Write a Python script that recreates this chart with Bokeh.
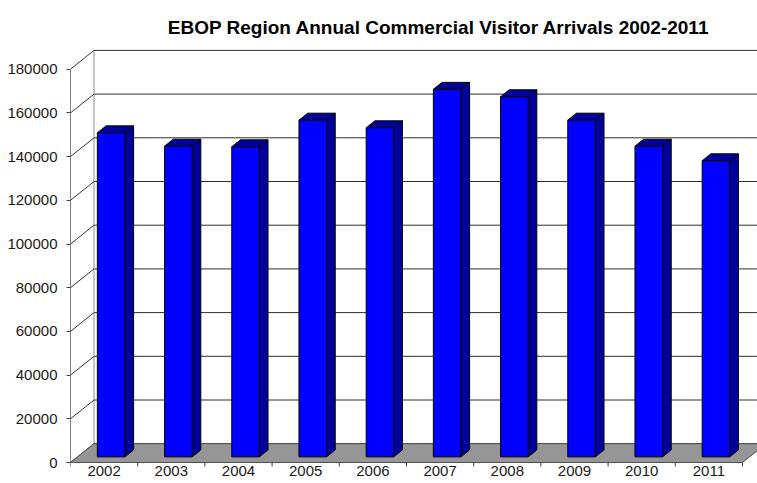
from bokeh.plotting import figure
from bokeh.models import FixedTicker, Range1d, BasicTickFormatter
from bokeh.core.properties import value
from bokeh.embed import file_html
from bokeh.resources import INLINE

# ---------------- data ----------------
years = ["2002", "2003", "2004", "2005", "2006", "2007", "2008", "2009", "2010", "2011"]
arrivals = [148300, 142200, 141900, 154100, 150600, 168200, 164800, 154100, 142200, 135500]
y_ticks = [0, 20000, 40000, 60000, 80000, 100000, 120000, 140000, 160000, 180000]
title_text = "EBOP Region Annual Commercial Visitor Arrivals 2002-2011"

# ---------------- geometry (styles) ----------------
W, H = 757, 483
LEFT = 70
PX_X = 67.2                 # px per category
PX_Y = 393.3 / 180000.0     # px per value unit
ZERO_Y = 462.0              # screen y of front zero line
DXW = 23.5 / PX_X           # wall depth offset (x, category units)
DYW = 18.8 / PX_Y           # wall depth offset (y, value units)
F_FRONT = 0.30              # bar front-face depth fraction
F_DEPTH = 0.37              # bar depth fraction
BAR_W = 0.41                # bar front width (category units)

n = len(years)
x_end = (W - LEFT) / PX_X
y_start = -(H - ZERO_Y) / PX_Y
y_end = ZERO_Y / PX_Y

p = figure(width=W, height=H, output_backend="svg", toolbar_location=None,
           x_range=Range1d(0, x_end), y_range=Range1d(y_start, y_end),
           x_axis_location=None, min_border_left=LEFT, min_border_right=0,
           min_border_top=0, min_border_bottom=0, outline_line_color=None,
           background_fill_color="white", border_fill_color="white")
p.xgrid.visible = False
p.ygrid.visible = False

yax = p.yaxis[0]
yax.ticker = FixedTicker(ticks=y_ticks, minor_ticks=[])
yax.formatter = BasicTickFormatter(use_scientific=False)
yax.bounds = (y_ticks[0], y_ticks[-1])
yax.axis_line_color = "#808080"
yax.major_tick_line_color = "#404040"
yax.major_tick_out = 4
yax.major_tick_in = 0
yax.minor_tick_out = 0
yax.minor_tick_in = 0
yax.major_label_standoff = 9
yax.major_label_text_font = "Liberation Sans"
yax.major_label_text_font_size = "15px"
yax.major_label_text_color = "#1a1a1a"

# back wall gridlines
p.segment(x0=[DXW] * len(y_ticks), y0=[t + DYW for t in y_ticks],
          x1=[n + DXW] * len(y_ticks), y1=[t + DYW for t in y_ticks],
          line_color="#2e2e2e", line_width=1)
# back wall left edge
p.segment(x0=[DXW], y0=[y_ticks[0] + DYW], x1=[DXW], y1=[y_ticks[-1] + DYW],
          line_color="#8a8a8a", line_width=1)
# side wall diagonals
p.segment(x0=[0] * len(y_ticks), y0=y_ticks, x1=[DXW] * len(y_ticks),
          y1=[t + DYW for t in y_ticks], line_color="#333333", line_width=1)

# floor
p.patch(x=[0, n, n + DXW, DXW], y=[0, 0, DYW, DYW],
        fill_color="#969696", line_color="#505050", line_width=1)

# category ticks
p.segment(x0=list(range(n + 1)), y0=[0] * (n + 1), x1=list(range(n + 1)),
          y1=[-4 / PX_Y] * (n + 1), line_color="#404040", line_width=1)

# bars
base = F_FRONT * DYW
ddx = F_DEPTH * DXW
ddy = F_DEPTH * DYW
lefts = [i + 0.5 + F_FRONT * DXW - BAR_W / 2 for i in range(n)]
rights = [l + BAR_W for l in lefts]
tops = [v + base for v in arrivals]

side_xs = [[r, r + ddx, r + ddx, r] for r in rights]
side_ys = [[base, base + ddy, t + ddy, t] for t in tops]
top_xs = [[l, l + ddx, r + ddx, r] for l, r in zip(lefts, rights)]
top_ys = [[t, t + ddy, t + ddy, t] for t in tops]

p.patches(xs=side_xs, ys=side_ys, fill_color="#00009A", line_color="black", line_width=1)
p.patches(xs=top_xs, ys=top_ys, fill_color="#00009A", line_color="black", line_width=1)
p.quad(left=lefts, right=rights, bottom=[base] * n, top=tops,
       fill_color="#0000FF", line_color="black", line_width=1)

# category labels (kept fully inside the picture)
p.text(x=[i + 0.5 for i in range(n)], y=[-(465 - ZERO_Y) / PX_Y] * n, text=years,
       text_font=value("Liberation Sans"), text_font_size="15px",
       text_align="center", text_baseline="top", text_color="#1a1a1a")

# title
p.text(x=[(439 - 70.5) / PX_X], y=[(ZERO_Y - 27) / PX_Y], text=[title_text],
       text_font=value("Liberation Sans"), text_font_style="bold", text_font_size="19px",
       text_align="center", text_baseline="alphabetic", text_color="black")

open("out.html", "w").write(file_html(p, INLINE))
